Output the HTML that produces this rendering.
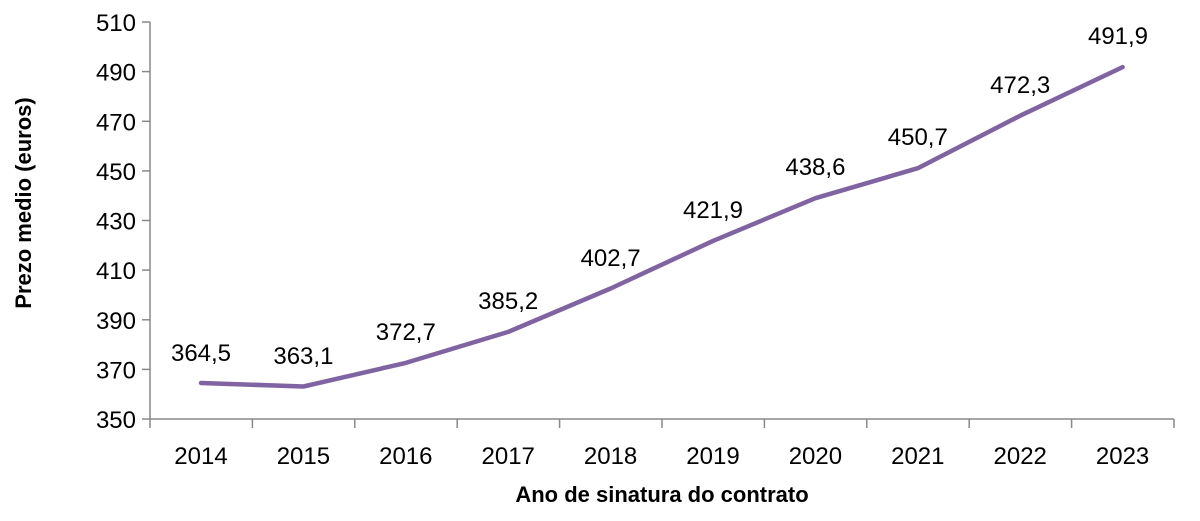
<!DOCTYPE html>
<html><head><meta charset="utf-8"><style>body{margin:0;background:#fff}svg{display:block}</style></head>
<body>
<svg width="1200" height="521" xmlns="http://www.w3.org/2000/svg" font-family="Liberation Sans, sans-serif">
<g stroke="#888" stroke-width="1.5" fill="none">
<line x1="150" y1="22" x2="150" y2="428"/>
<line x1="142" y1="419" x2="1174" y2="419"/>
<line x1="142" y1="22" x2="150" y2="22"/>
<line x1="142" y1="71.6" x2="150" y2="71.6"/>
<line x1="142" y1="121.3" x2="150" y2="121.3"/>
<line x1="142" y1="170.9" x2="150" y2="170.9"/>
<line x1="142" y1="220.5" x2="150" y2="220.5"/>
<line x1="142" y1="270.1" x2="150" y2="270.1"/>
<line x1="142" y1="319.8" x2="150" y2="319.8"/>
<line x1="142" y1="369.4" x2="150" y2="369.4"/>
<line x1="252.4" y1="419" x2="252.4" y2="428"/>
<line x1="354.8" y1="419" x2="354.8" y2="428"/>
<line x1="457.2" y1="419" x2="457.2" y2="428"/>
<line x1="559.6" y1="419" x2="559.6" y2="428"/>
<line x1="662" y1="419" x2="662" y2="428"/>
<line x1="764.4" y1="419" x2="764.4" y2="428"/>
<line x1="866.8" y1="419" x2="866.8" y2="428"/>
<line x1="969.2" y1="419" x2="969.2" y2="428"/>
<line x1="1071.6" y1="419" x2="1071.6" y2="428"/>
<line x1="1174" y1="419" x2="1174" y2="428"/>
</g>
<g font-size="24" text-anchor="end" fill="#000">
<text x="136" y="31">510</text><text x="136" y="80.6">490</text><text x="136" y="130.3">470</text><text x="136" y="179.9">450</text><text x="136" y="229.5">430</text><text x="136" y="279.1">410</text><text x="136" y="328.8">390</text><text x="136" y="378.4">370</text><text x="136" y="428">350</text>
</g>
<g font-size="24" text-anchor="middle" fill="#000">
<text x="201" y="464">2014</text><text x="303.4" y="464">2015</text><text x="405.8" y="464">2016</text><text x="508.2" y="464">2017</text><text x="610.6" y="464">2018</text><text x="713" y="464">2019</text><text x="815.4" y="464">2020</text><text x="917.8" y="464">2021</text><text x="1020.2" y="464">2022</text><text x="1122.6" y="464">2023</text>
</g>
<polyline fill="none" stroke="#8064A2" stroke-width="4.5" stroke-linejoin="round" stroke-linecap="round"
points="201,383 303.4,386.5 405.8,362.9 508.2,331.9 610.6,288.5 713,240.9 815.4,198.2 917.8,168.2 1020.2,115.7 1122.6,67.1"/>
<g font-size="24" text-anchor="middle" fill="#000">
<text x="201" y="361">364,5</text><text x="303.4" y="364">363,1</text><text x="405.8" y="340">372,7</text><text x="508.2" y="309">385,2</text><text x="610.6" y="266">402,7</text><text x="713" y="218">421,9</text><text x="815.4" y="175">438,6</text><text x="917.8" y="145">450,7</text><text x="1020.2" y="93">472,3</text><text x="1118" y="44">491,9</text>
</g>
<text x="662" y="502" font-size="22" font-weight="bold" text-anchor="middle">Ano de sinatura do contrato</text>
<text transform="translate(31,203) rotate(-90)" font-size="22" font-weight="bold" text-anchor="middle">Prezo medio (euros)</text>
</svg>
</body></html>
